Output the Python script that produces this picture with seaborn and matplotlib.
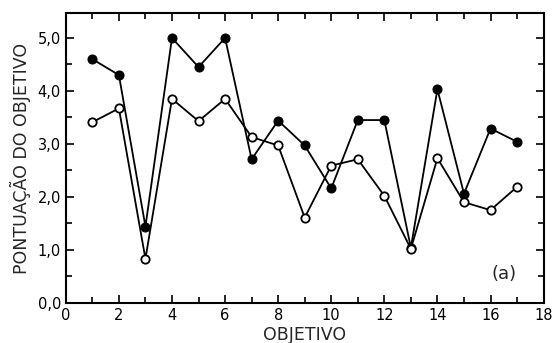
import matplotlib
matplotlib.use("Agg")
import matplotlib.pyplot as plt
import seaborn as sns
import pandas as pd
from matplotlib.ticker import FuncFormatter, MultipleLocator

objetivo = list(range(1, 18))
pont_cheio = [4.6, 4.3, 1.44, 5.0, 4.45, 5.0, 2.71, 3.44, 2.97, 2.16, 3.45, 3.45, 1.04, 4.03, 2.06, 3.29, 3.04]
pont_aberto = [3.41, 3.67, 0.83, 3.85, 3.43, 3.85, 3.13, 2.97, 1.61, 2.59, 2.71, 2.02, 1.02, 2.73, 1.9, 1.75, 2.19]

sns.set_theme(style="ticks")
plt.rcParams['font.family'] = ['DejaVu Sans']

df = pd.DataFrame({"x": objetivo, "cheio": pont_cheio, "aberto": pont_aberto})

fig = plt.figure(figsize=(5.53, 3.43), dpi=100)
ax = fig.add_axes([0.119, 0.117, 0.864, 0.845])

sns.lineplot(data=df, x="x", y="cheio", ax=ax, color="black", linewidth=1.3,
             marker="o", markersize=6.5, markerfacecolor="black", markeredgecolor="black", zorder=3)
sns.lineplot(data=df, x="x", y="aberto", ax=ax, color="black", linewidth=1.3,
             marker="o", markersize=6, markerfacecolor="white", markeredgecolor="black",
             markeredgewidth=1.3, zorder=4)

ax.set_xlim(0, 18)
ax.set_ylim(0, 5.47)
ax.xaxis.set_major_locator(MultipleLocator(2))
ax.xaxis.set_minor_locator(MultipleLocator(1))
ax.yaxis.set_major_locator(MultipleLocator(1))
ax.yaxis.set_minor_locator(MultipleLocator(0.5))
ax.yaxis.set_major_formatter(FuncFormatter(lambda v, p: f"{v:.1f}".replace('.', ',')))
ax.tick_params(which="both", direction="in", top=True, right=True, width=1.2, labelsize=10.5, colors="black")
ax.tick_params(which="major", length=6)
ax.tick_params(which="minor", length=4)
for s in ax.spines.values():
    s.set_linewidth(1.5)
    s.set_color("black")

ax.set_xlabel("OBJETIVO", fontsize=12.5, labelpad=2)
ax.set_ylabel("PONTUAÇÃO DO OBJETIVO", fontsize=12.5, labelpad=5)
ax.text(16.5, 0.55, "(a)", fontsize=13, ha="center", va="center")

fig.savefig("out.png", dpi=100)
